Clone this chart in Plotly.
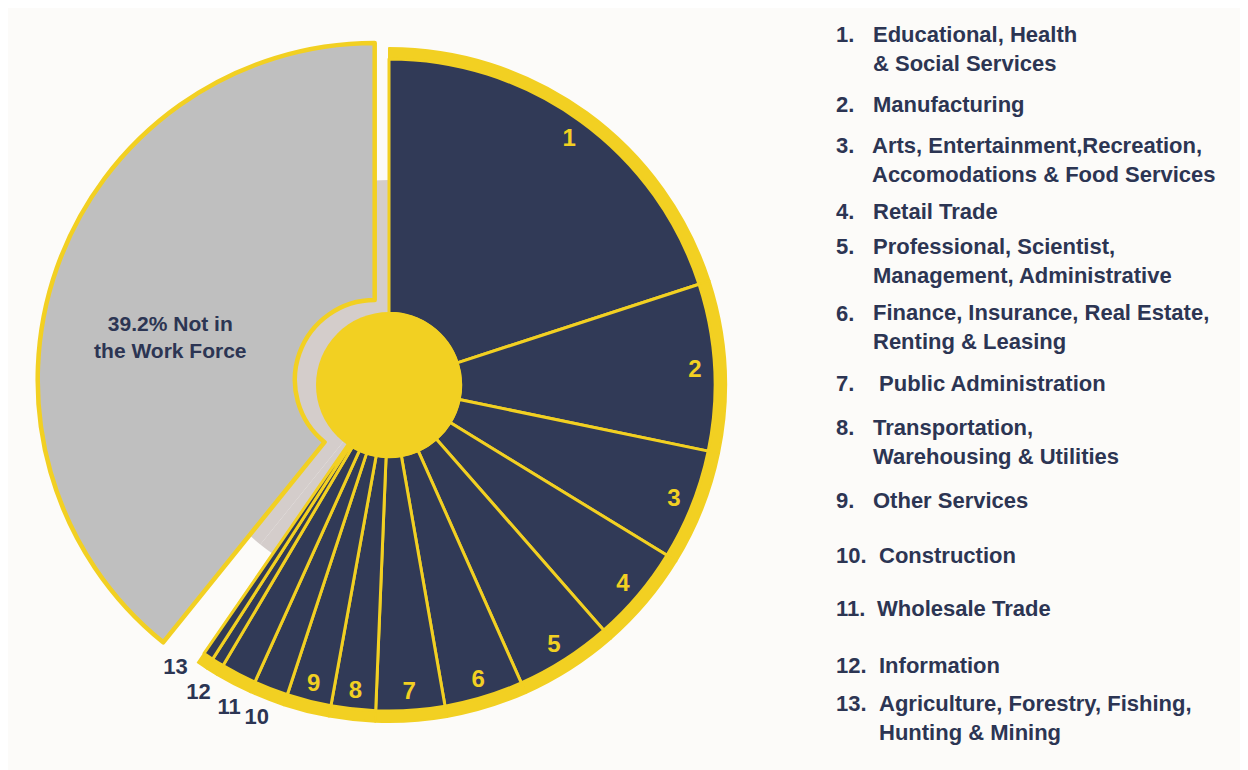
import plotly.graph_objects as go

# industry shares of the population 16+ (percent)
industries = ['Educational, Health & Social Services', 'Manufacturing',
              'Arts, Entertainment, Recreation, Accomodations & Food Services',
              'Retail Trade', 'Professional, Scientist, Management, Administrative',
              'Finance, Insurance, Real Estate, Renting & Leasing',
              'Public Administration', 'Transportation, Warehousing & Utilities',
              'Other Services', 'Construction', 'Wholesale Trade', 'Information',
              'Agriculture, Forestry, Fishing, Hunting & Mining']
shares = [20.0, 8.25, 5.5, 4.8, 4.8, 3.9, 3.4, 2.2, 2.2, 1.7, 1.75, 0.6, 0.5]
unshown = 1.2          # empty wedge between slice 13 and the grey slice
not_in_work_force = 39.2
slice_nums = [str(i) for i in range(1, len(shares) + 1)]

legend_labels = ['Educational, Health<br>& Social Services',
                 'Manufacturing',
                 'Arts, Entertainment,Recreation,<br>Accomodations & Food Services',
                 'Retail Trade',
                 'Professional, Scientist,<br>Management, Administrative',
                 'Finance, Insurance, Real Estate,<br>Renting & Leasing',
                 ' Public Administration',
                 'Transportation,<br>Warehousing & Utilities',
                 'Other Services',
                 'Construction',
                 'Wholesale Trade',
                 'Information',
                 'Agriculture, Forestry, Fishing,<br>Hunting & Mining']

labels = industries + ['(gap)', 'Not in the Work Force']
values = shares + [unshown, not_in_work_force]
n = len(shares)

NAVY = '#313a57'
YELLOW = '#f2d022'
GRAY = '#bfbfbf'
SHADOW = '#d4cdcb'
CLEAR = 'rgba(0,0,0,0)'
TEXT = '#2c3553'
FONT = 'Liberation Sans'

# the page has an 8px body margin, so the figure sits 8px in from the corner
OFF = 8
W, H = 1248 - OFF, 770 - OFF
cx, cy = 389 - OFF, 385 - OFF


def dom(half):
    return dict(x=[(cx - half) / W, (cx + half) / W],
                y=[1 - (cy + half) / H, 1 - (cy - half) / H])


common = dict(labels=labels, values=values, sort=False, direction='clockwise',
              showlegend=False, hoverinfo='skip')

fig = go.Figure()

# shadow behind the pulled-out slice
fig.add_trace(go.Pie(**common, rotation=0, domain=dom(205), textinfo='none',
                     marker=dict(colors=[CLEAR] * n + [SHADOW, SHADOW])))

# yellow outer rim + grey "not in work force" slice
pull = 0.045
fig.add_trace(go.Pie(**common, rotation=0, domain=dom(337 * (1 + pull)), hole=0.237,
                     pull=[0] * (n + 1) + [pull], textinfo='none',
                     marker=dict(colors=[YELLOW] * n + [CLEAR, GRAY],
                                 line=dict(color=YELLOW, width=[2] * n + [0, 4.5]))))

# navy industry slices
fig.add_trace(go.Pie(**common, rotation=0, domain=dom(326), hole=0.22, textinfo='none',
                     marker=dict(colors=[NAVY] * n + [CLEAR, CLEAR],
                                 line=dict(color=[YELLOW] * n + [CLEAR, CLEAR],
                                           width=[3] * n + [0, 0]))))

# numbers near the rim for the larger slices
fig.add_trace(go.Pie(**common, rotation=0, domain=dom(326), hole=0.88,
                     marker=dict(colors=[CLEAR] * (n + 2)),
                     text=slice_nums[:9] + [''] * (n - 9) + ['', ''],
                     textinfo='text',
                     textposition=['inside'] * 9 + ['none'] * (n - 9) + ['none', 'none'],
                     insidetextorientation='horizontal',
                     textfont=dict(family=FONT, size=24, color=YELLOW, weight='bold')))

# slices 10-13 are labelled just outside the rim, one text trace each so that
# they are not pushed apart; radius and small angle nudge per label
outside_r = [340, 342, 343, 336]
outside_rot = [-1.7, -2.9, -1.6, 1.8]
for k, i in enumerate(range(9, n)):
    txt = [''] * (n + 2)
    txt[i] = slice_nums[i]
    pos = ['none'] * (n + 2)
    pos[i] = 'outside'
    fig.add_trace(go.Pie(**common, rotation=outside_rot[k], domain=dom(outside_r[k]),
                         hole=0.95, marker=dict(colors=[CLEAR] * (n + 2)),
                         text=txt, textinfo='text', textposition=pos,
                         outsidetextfont=dict(family=FONT, size=22, color=TEXT,
                                              weight='bold')))

# label of the grey slice (set a little counter-clockwise of its middle)
fig.add_trace(go.Pie(**common, rotation=-7, domain=dom(326), hole=0.374,
                     marker=dict(colors=[CLEAR] * (n + 2)),
                     text=[''] * (n + 1) + ['39.2% Not in<br>the Work Force'],
                     textinfo='text',
                     textposition=['none'] * (n + 1) + ['inside'],
                     insidetextorientation='horizontal',
                     textfont=dict(family=FONT, size=21, color=TEXT, weight='bold')))

# yellow disc in the centre
fig.add_trace(go.Pie(labels=['centre'], values=[1], domain=dom(73), sort=False,
                     showlegend=False, hoverinfo='skip', textinfo='none',
                     marker=dict(colors=[YELLOW])))

# numbered key on the right
entry_y = [48.5, 104, 160, 211, 261, 327.5, 383, 441.5, 500, 555, 608, 665, 718]
text_x = [873, 873, 872, 873, 873, 873, 873, 873, 873, 879, 877, 879, 879]
num_x = 836
annotations = []
for i, lab in enumerate(legend_labels):
    two_lines = '<br>' in lab
    annotations.append(dict(x=(num_x - OFF - 2) / W,
                            y=1 - (entry_y[i] - OFF - (14.3 if two_lines else 0)) / H,
                            xref='paper', yref='paper',
                            text=slice_nums[i] + '.', showarrow=False,
                            xanchor='left', yanchor='middle',
                            font=dict(family=FONT, size=22, color=TEXT, weight='bold')))
    annotations.append(dict(x=(text_x[i] - OFF - 2) / W, y=1 - (entry_y[i] - OFF) / H,
                            xref='paper', yref='paper', text=lab, showarrow=False,
                            xanchor='left', yanchor='middle', align='left',
                            font=dict(family=FONT, size=22, color=TEXT, weight='bold')))

fig.update_layout(width=W, height=H, margin=dict(l=0, r=0, t=0, b=0),
                  paper_bgcolor='#fcfbf9', plot_bgcolor='#fcfbf9',
                  annotations=annotations)

fig.write_html('out.html')
